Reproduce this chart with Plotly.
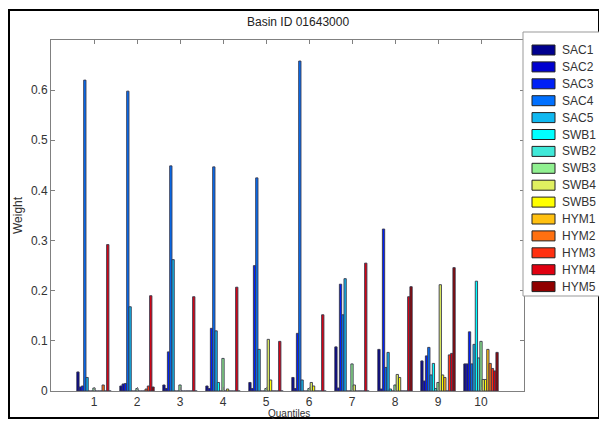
import plotly.graph_objects as go

quantiles = [1, 2, 3, 4, 5, 6, 7, 8, 9, 10]
tick_labels = ["1", "2", "3", "4", "5", "6", "7", "8", "9", "10"]
series_names = ["SAC1", "SAC2", "SAC3", "SAC4", "SAC5",
                "SWB1", "SWB2", "SWB3", "SWB4", "SWB5",
                "HYM1", "HYM2", "HYM3", "HYM4", "HYM5"]

SAC1 = [0.038, 0.010, 0.012, 0.010, 0.017, 0.027, 0.088, 0.083, 0.060, 0.054]
SAC2 = [0.008, 0.014, 0.005, 0.005, 0.005, 0.005, 0.006, 0.004, 0.020, 0.054]
SAC3 = [0.010, 0.015, 0.078, 0.125, 0.250, 0.115, 0.213, 0.323, 0.070, 0.118]
SAC4 = [0.620, 0.598, 0.449, 0.447, 0.425, 0.658, 0.152, 0.047, 0.087, 0.054]
SAC5 = [0.027, 0.168, 0.262, 0.120, 0.083, 0.022, 0.224, 0.077, 0.032, 0.093]
SWB1 = [0.000, 0.000, 0.000, 0.017, 0.000, 0.000, 0.000, 0.004, 0.055, 0.219]
SWB2 = [0.000, 0.000, 0.000, 0.000, 0.000, 0.000, 0.000, 0.000, 0.005, 0.066]
SWB3 = [0.006, 0.005, 0.012, 0.065, 0.005, 0.005, 0.054, 0.012, 0.017, 0.099]
SWB4 = [0.000, 0.000, 0.000, 0.000, 0.103, 0.017, 0.012, 0.033, 0.212, 0.023]
SWB5 = [0.000, 0.000, 0.000, 0.004, 0.022, 0.010, 0.000, 0.027, 0.032, 0.023]
HYM1 = [0.000, 0.000, 0.000, 0.000, 0.000, 0.000, 0.000, 0.000, 0.027, 0.083]
HYM2 = [0.012, 0.004, 0.000, 0.000, 0.000, 0.000, 0.000, 0.000, 0.000, 0.055]
HYM3 = [0.000, 0.010, 0.000, 0.000, 0.000, 0.000, 0.000, 0.000, 0.072, 0.045]
HYM4 = [0.292, 0.190, 0.188, 0.207, 0.099, 0.152, 0.255, 0.188, 0.075, 0.040]
HYM5 = [0.000, 0.008, 0.000, 0.000, 0.000, 0.000, 0.000, 0.208, 0.246, 0.077]

series_values = [SAC1, SAC2, SAC3, SAC4, SAC5, SWB1, SWB2, SWB3, SWB4, SWB5,
                 HYM1, HYM2, HYM3, HYM4, HYM5]

colors = ["#00008F", "#0000CF", "#0020F5", "#0070FF", "#10B8F0",
          "#00FFFF", "#40E8D8", "#90F090", "#E0F060", "#FFFF00",
          "#FFC010", "#FF7010", "#FF3010", "#E00010", "#900000"]

fig = go.Figure()
for name, vals, col in zip(series_names, series_values, colors):
    fig.add_trace(go.Bar(
        x=quantiles, y=vals, name=name, showlegend=False,
        marker=dict(color=col, line=dict(color="rgba(55,55,75,0.9)", width=1)),
    ))

W, H = 599, 421
L, R, T, B = 51, 75, 40, 30
pw = W - L - R
ph = H - T - B

def px2x(px):
    return (px - L) / pw

def py2y(py):
    return (H - B - py) / ph

axis_col = "#808080"
font_fam = "Liberation Sans, Arial, sans-serif"

shapes = [
    dict(type="rect", xref="paper", yref="paper",
         x0=px2x(9), x1=px2x(599), y0=py2y(418), y1=py2y(10),
         line=dict(color="black", width=2), fillcolor="rgba(0,0,0,0)", layer="below"),
    dict(type="rect", xref="paper", yref="paper",
         x0=px2x(523), x1=px2x(605), y0=py2y(296), y1=py2y(32),
         line=dict(color="#999999", width=1), fillcolor="white", layer="above"),
]
annotations = [
    dict(text="Basin ID 01643000", x=px2x(298), y=py2y(22), xref="paper", yref="paper",
         showarrow=False, xanchor="center", yanchor="middle",
         font=dict(size=12, color="#222222")),
    dict(text="Weight", x=px2x(18), y=py2y(215), xref="paper", yref="paper",
         showarrow=False, xanchor="center", yanchor="middle", textangle=-90,
         font=dict(size=12, color="#333333")),
    dict(text="Quantiles", x=px2x(289), y=py2y(413), xref="paper", yref="paper",
         showarrow=False, xanchor="center", yanchor="middle",
         font=dict(size=10, color="#333333")),
]

for i, (name, col) in enumerate(zip(series_names, colors)):
    cy = 50 + i * 16.9
    shapes.append(dict(type="rect", xref="paper", yref="paper",
                       x0=px2x(532), x1=px2x(555), y0=py2y(cy + 5), y1=py2y(cy - 5),
                       line=dict(color="#222222", width=1), fillcolor=col, layer="above"))
    annotations.append(dict(text=name, x=px2x(560), y=py2y(cy), xref="paper", yref="paper",
                            showarrow=False, xanchor="left", yanchor="middle",
                            font=dict(size=12, color="#333333")))

fig.update_layout(
    width=W, height=H,
    margin=dict(l=L, r=R, t=T, b=B, pad=0),
    paper_bgcolor="white", plot_bgcolor="white",
    barmode="group", bargap=0.2, bargroupgap=0.0,
    font=dict(family=font_fam, size=12, color="#333333"),
    showlegend=False,
    xaxis=dict(
        range=[0, 11], tickmode="array", tickvals=quantiles, ticktext=tick_labels,
        ticks="inside", ticklen=4, tickcolor=axis_col,
        showline=True, linecolor=axis_col, linewidth=1, mirror="ticks",
        showgrid=False, zeroline=False,
        tickfont=dict(size=12, color="#333333"),
    ),
    yaxis=dict(
        range=[0, 0.7], tickvals=[0, 0.1, 0.2, 0.3, 0.4, 0.5, 0.6],
        ticktext=["0", "0.1", "0.2", "0.3", "0.4", "0.5", "0.6"],
        ticks="inside", ticklen=4, tickcolor=axis_col,
        showline=True, linecolor=axis_col, linewidth=1, mirror="ticks",
        showgrid=False, zeroline=False,
        tickfont=dict(size=12, color="#333333"),
    ),
    annotations=annotations,
    shapes=shapes,
)

fig.write_html("out.html")
